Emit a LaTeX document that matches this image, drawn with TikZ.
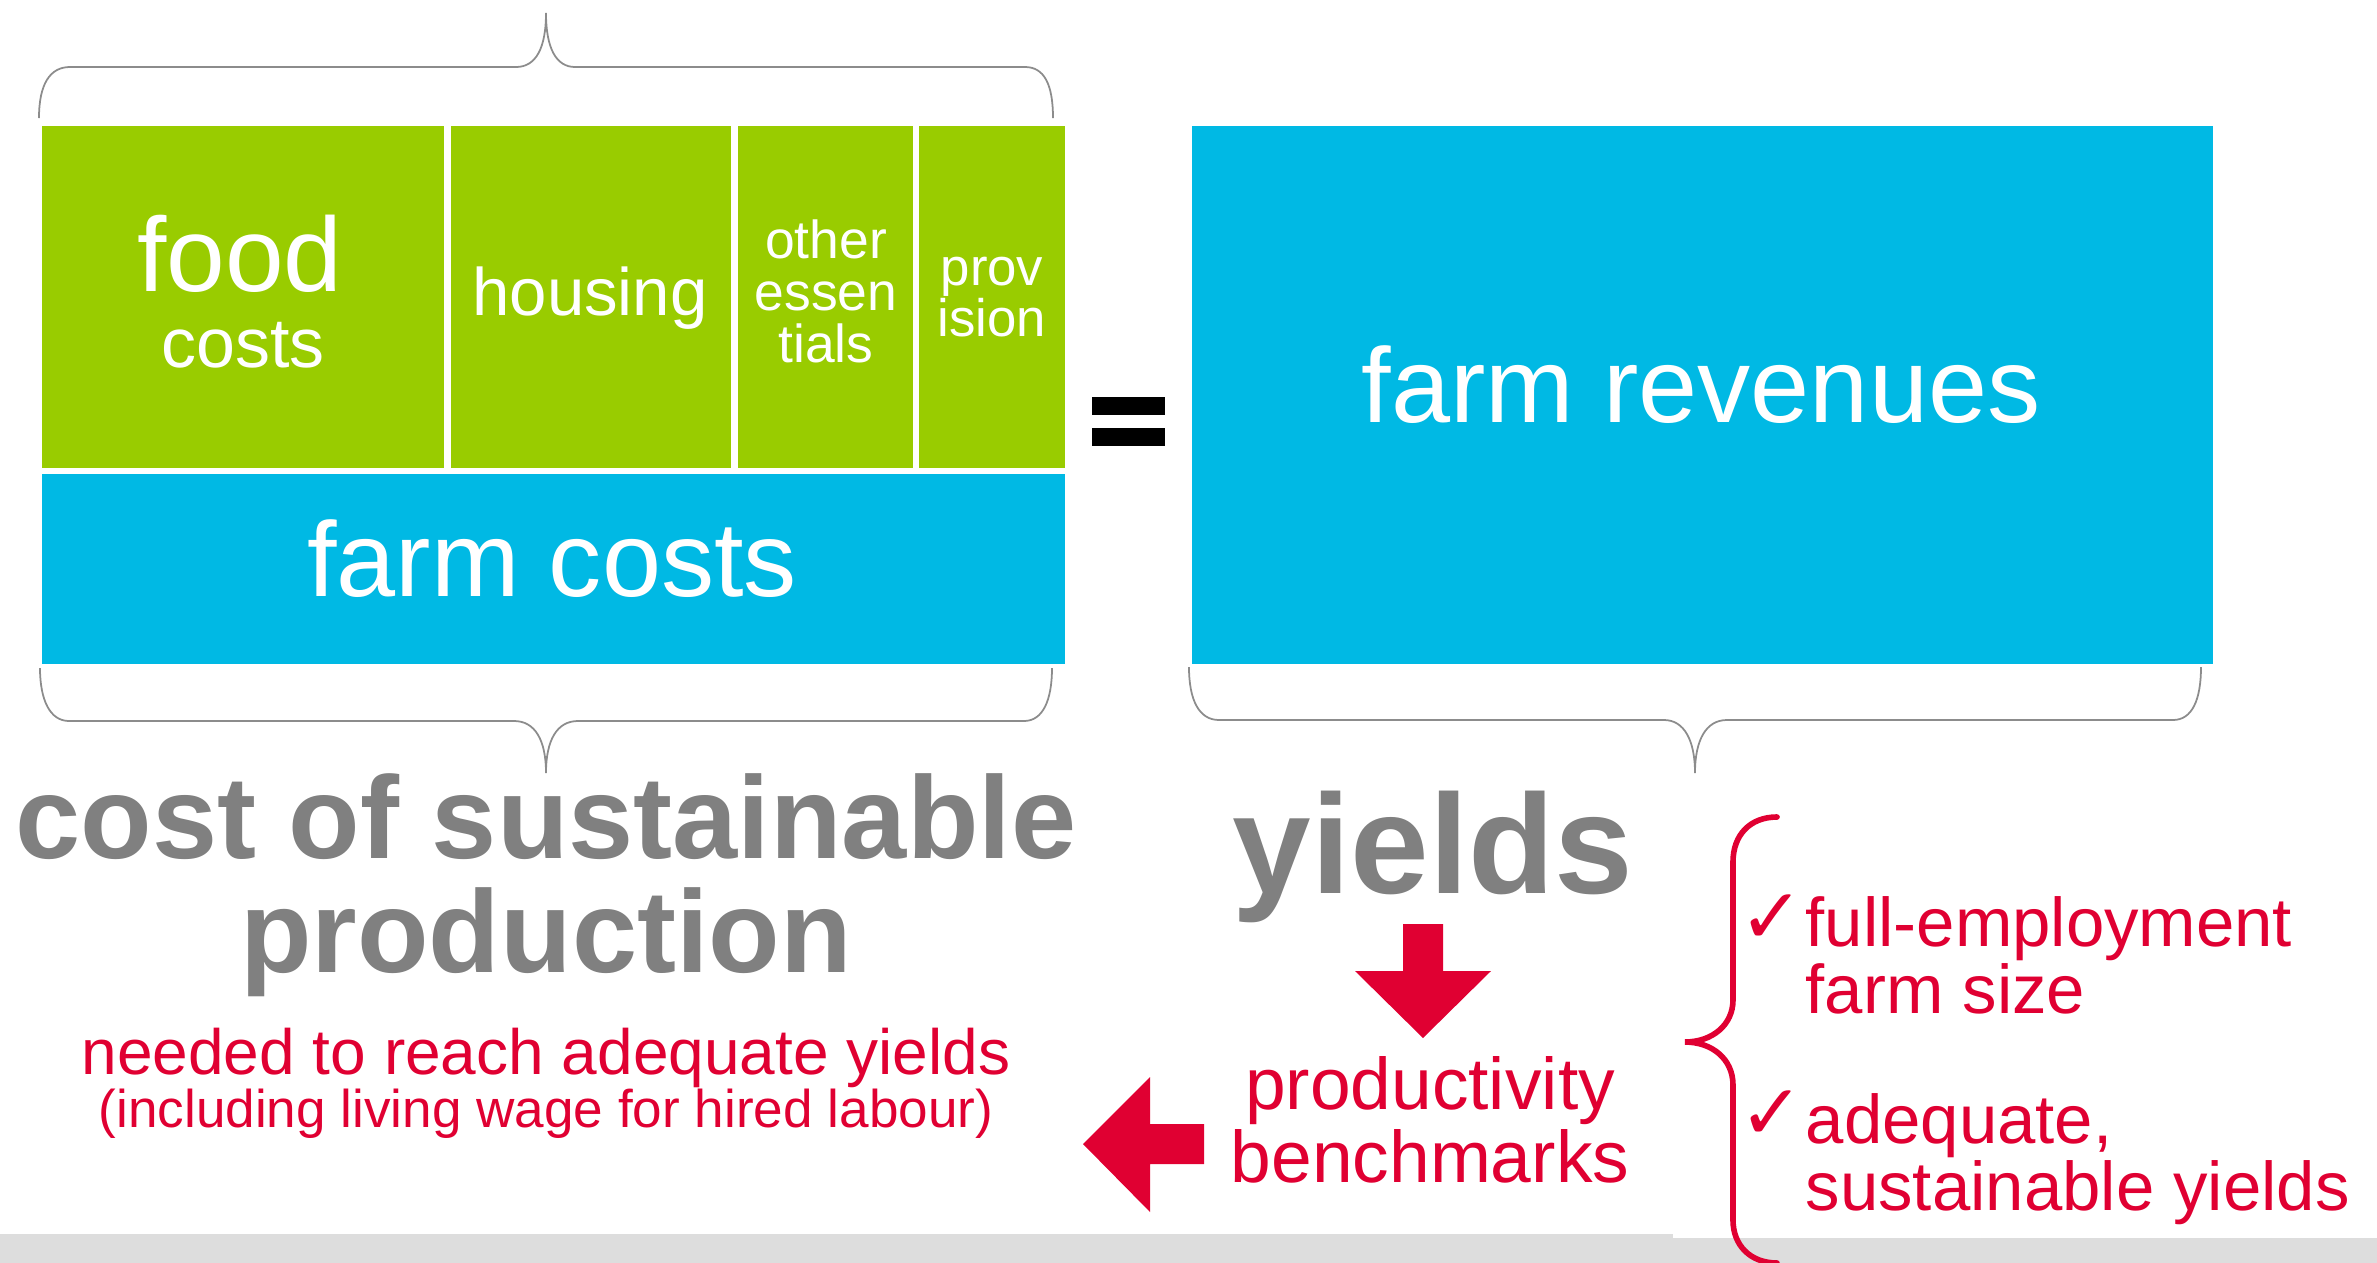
\documentclass[tikz,border=0pt]{standalone}
\usepackage{fontspec}
\setmainfont{Liberation Sans}
\newfontfamily\symfont{DejaVu Sans}
\definecolor{leafgreen}{RGB}{153,204,0}
\definecolor{skyblue}{RGB}{0,185,228}
\definecolor{signalred}{RGB}{224,0,50}
\definecolor{textgrey}{RGB}{128,128,128}
\definecolor{bracegrey}{RGB}{140,140,140}
\definecolor{bargrey}{RGB}{221,221,221}
\newcommand\fsz[2]{\fontsize{#1}{#2}\selectfont}
\begin{document}
\begin{tikzpicture}[x=0.01cm,y=-0.01cm,
  lbl/.style={inner sep=0pt,anchor=base,align=center},
  boxlbl/.style={lbl,text=white},
  redlbl/.style={lbl,text=signalred},
  greylbl/.style={lbl,text=textgrey,font=\bfseries\fsz{33.3}{32.2}},
  brace/.style={draw=bracegrey,line width=0.5pt},
  redbrace/.style={draw=signalred,line width=1.6pt,line cap=round}]
\useasboundingbox (0,0) rectangle (2377,1263);
\fill[bargrey] (0,1234) rectangle (1673,1263);
\fill[bargrey] (1673,1238) rectangle (2377,1263);
\fill[leafgreen] (42,126) rectangle (444,468);
\fill[leafgreen] (451,126) rectangle (731,468);
\fill[leafgreen] (738,126) rectangle (913,468);
\fill[leafgreen] (919,126) rectangle (1065,468);
\fill[skyblue] (42,474) rectangle (1065,664);
\fill[skyblue] (1192,126) rectangle (2213,664);
\fill (1092,397) rectangle (1165,415);
\fill (1092,428) rectangle (1165,446);
\node[boxlbl,font=\fsz{30}{30}] (food) at (240,291) {food};
\node[boxlbl,font=\fsz{19.9}{20}] (costs) at (243,367) {costs};
\node[boxlbl,font=\fsz{19.1}{19}] (housing) at (590,315) {housing};
\node[boxlbl,font=\fsz{15.2}{14.65}] (other) at (826,362) {other\\essen\\tials};
\node[boxlbl,font=\fsz{15}{14.5}] (prov) at (992,336) {prov\\ision};
\node[boxlbl,font=\fsz{30.2}{30}] (farmcosts) at (552,596) {farm costs};
\node[boxlbl,font=\fsz{30.2}{30}] (revenues) at (1701,422) {farm revenues};
\draw[brace] (39,118) .. controls (39,84) and (50,67) .. (70,67) -- (516,67)
  .. controls (536,67) and (546,48) .. (546,13) .. controls (546,48) and (556,67) .. (575,67)
  -- (1025,67) .. controls (1044,67) and (1053,84) .. (1053,118);
\draw[brace] (40,668) .. controls (40,700) and (50,721) .. (69,721) -- (514,721)
  .. controls (535,721) and (546,740) .. (546,773) .. controls (546,740) and (557,721) .. (578,721)
  -- (1024,721) .. controls (1043,721) and (1052,700) .. (1052,668);
\draw[brace] (1189,667) .. controls (1189,700) and (1199,720) .. (1219,720) -- (1664,720)
  .. controls (1684,720) and (1695,740) .. (1695,773) .. controls (1695,740) and (1706,720) .. (1727,720)
  -- (2173,720) .. controls (2192,720) and (2201,700) .. (2201,667);
\node[greylbl] (cost) at (546,972) {cost of sustainable\\production};
\node[redlbl,font=\fsz{18.2}{18}] (needed) at (546,1074) {needed to reach adequate yields};
\node[redlbl,font=\fsz{15.1}{15}] (incl) at (546,1127) {(including living wage for hired labour)};
\node[greylbl,font=\bfseries\fsz{40.2}{40}] (yields) at (1433,893) {yields};
\node[redlbl,font=\fsz{20.8}{20.5}] (bench) at (1430,1182) {productivity\\benchmarks};
\fill[signalred] (1403,924) -- (1443,924) -- (1443,971) -- (1491,971) -- (1423,1038)
  -- (1355,971) -- (1403,971) -- cycle;
\fill[signalred] (1204,1124) -- (1150,1124) -- (1150,1077) -- (1083,1144) -- (1150,1212)
  -- (1150,1164) -- (1204,1164) -- cycle;
\draw[redbrace] (1777,817) .. controls (1750,817) and (1733,835) .. (1733,862) -- (1733,1000)
  .. controls (1733,1025) and (1712,1042) .. (1685,1042) .. controls (1712,1042) and (1733,1059) .. (1733,1085)
  -- (1733,1220) .. controls (1733,1245) and (1750,1263) .. (1777,1263);
\node[redlbl,anchor=base east,font=\symfont\fsz{22}{22}] (tick1) at (1805,943) {✓};
\node[redlbl,anchor=base east,font=\symfont\fsz{22}{22}] (tick2) at (1805,1139) {✓};
\node[redlbl,anchor=base west,align=left,font=\fsz{19.6}{18.8}] (fullemp) at (1805,1013) {full-employment\\farm size};
\node[redlbl,anchor=base west,align=left,font=\fsz{19.6}{18.8}] (adequate) at (1805,1210) {adequate,\\sustainable yields};
\end{tikzpicture}
\end{document}
